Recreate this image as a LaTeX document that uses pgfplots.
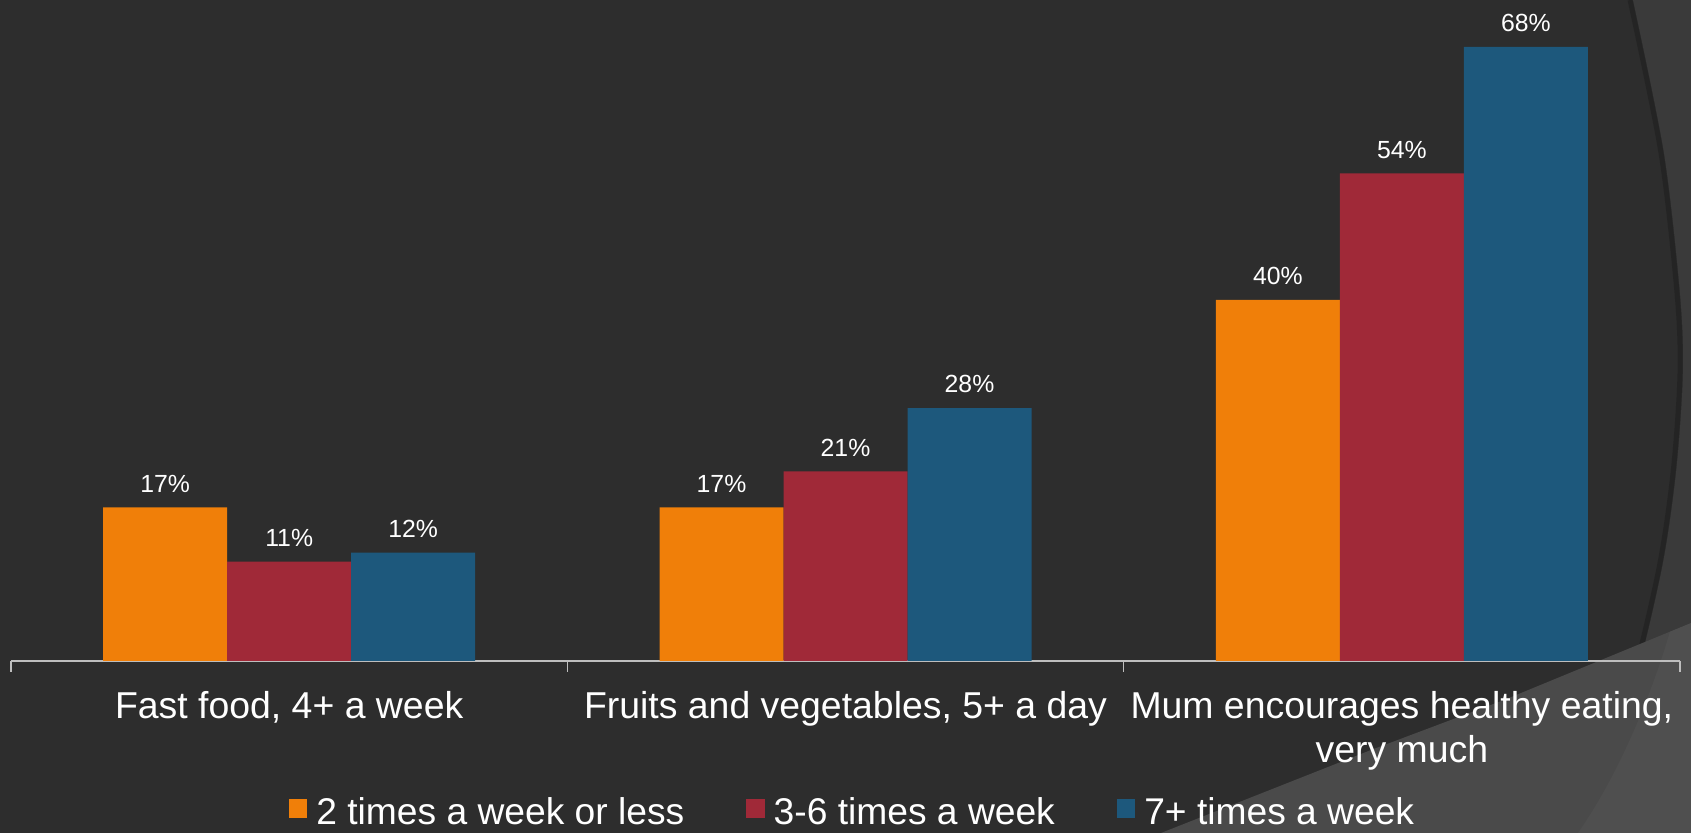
\documentclass[border=0pt]{standalone}
\usepackage{fontspec}
\setmainfont{Liberation Sans}
\usepackage{pgfplots}
\pgfplotsset{compat=1.18}
\definecolor{bg}{RGB}{45,45,45}
\definecolor{arcgray}{RGB}{58,58,58}
\definecolor{wedge}{RGB}{74,74,74}
\definecolor{c1}{RGB}{240,127,9}
\definecolor{c2}{RGB}{160,41,56}
\definecolor{c3}{RGB}{29,88,124}
\definecolor{axisgray}{RGB}{190,190,190}
\begin{document}
\begin{tikzpicture}
\useasboundingbox (0pt,0pt) rectangle (845.5pt,416.5pt);
\fill[bg] (0pt,0pt) rectangle (845.5pt,416.5pt);
\fill[arcgray] (845.5pt,416.5pt) -- plot[smooth] coordinates {(816.5pt,416.5pt) (832pt,340pt) (840pt,270pt) (841.5pt,230pt) (838pt,180pt) (830.5pt,130pt) (814pt,63.5pt) (789pt,0pt)} -- (845.5pt,0pt) -- cycle;
\draw[black, opacity=0.18, line width=2.5pt] plot[smooth] coordinates {(815pt,416.5pt) (830.5pt,340pt) (838.5pt,270pt) (840pt,230pt) (836.5pt,180pt) (829pt,130pt) (812.5pt,63.5pt) (787.5pt,0pt)};
\fill[wedge] (580.5pt,0pt) -- (685.5pt,41.5pt) -- (752pt,66.5pt) -- (845.5pt,105pt) -- (845.5pt,0pt) -- cycle;
\fill[white, opacity=0.03] (845.5pt,105pt) -- (835pt,100.7pt) .. controls (826pt,70pt) and (810pt,30pt) .. (789pt,0pt) -- (845.5pt,0pt) -- cycle;
\begin{axis}[
  at={(5.5pt,86pt)}, anchor=south west, scale only axis,
  width=834.5pt, height=329.6pt,
  xmin=-0.5, xmax=2.5, ymin=0, ymax=73,
  clip=false,
  ybar=0pt, bar width=62pt,
  axis x line*=bottom, axis y line=none,
  axis line style={-, draw=axisgray, line width=0.8pt},
  xtick={0,1,2},
  xticklabels={Fast food{,} 4+ a week, Fruits and vegetables{,} 5+ a day, {Mum encourages healthy eating,\\very much}},
  xticklabel style={font=\fontsize{18.7}{22}\selectfont, text=white, align=center, yshift=-11.5pt},
  major tick length=0pt,
  extra x ticks={-0.5,0.5,1.5,2.5},
  extra x tick labels={},
  extra x tick style={major tick length=5.5pt, tick align=outside, tick style={draw=axisgray, line width=0.8pt}},
  ytick=\empty,
  /pgf/number format/assume math mode=true,
  nodes near coords={\pgfmathprintnumber{\pgfplotspointmeta}\%},
  every node near coord/.append style={font=\fontsize{12.4}{14}\selectfont, text=white, yshift=4pt},
  legend columns=3,
  legend image code/.code={\fill[#1] (0pt,-2.5pt) rectangle (9.2pt,6.7pt);},
  legend style={at={(0.5036,-0.230)}, anchor=center, draw=none, fill=none, text=white,
    font=\fontsize{18.6}{22}\selectfont, inner sep=0pt, nodes={inner sep=0pt},
    /tikz/every odd column/.append style={column sep=4.5pt},
    /tikz/every even column/.append style={column sep=31pt}},
]
\addplot[fill=c1, draw=none] coordinates {(0,17) (1,17) (2,40)};
\addplot[fill=c2, draw=none] coordinates {(0,11) (1,21) (2,54)};
\addplot[fill=c3, draw=none] coordinates {(0,12) (1,28) (2,68)};
\legend{2 times a week or less, 3-6 times a week, 7+ times a week}
\end{axis}
\end{tikzpicture}
\end{document}
